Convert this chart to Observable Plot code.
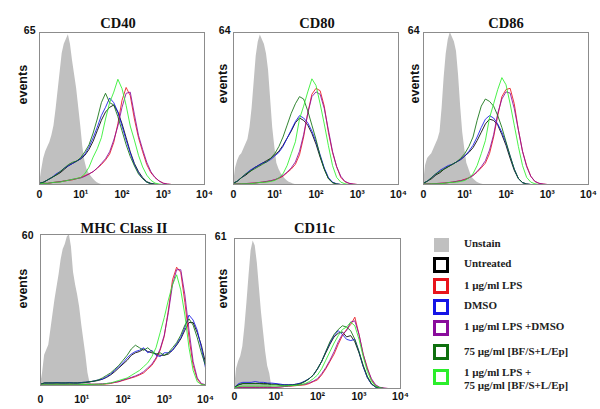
<!DOCTYPE html>
<html><head><meta charset="utf-8">
<script src="https://cdn.jsdelivr.net/npm/d3@7"></script>
<script src="https://cdn.jsdelivr.net/npm/@observablehq/plot@0.6"></script>
<style>
body{margin:0;background:#fff;}
#fig{position:relative;width:600px;height:409px;overflow:hidden;background:#fff;}
#fig svg{position:absolute;}
.leg{position:absolute;left:464px;font:bold 11px "Liberation Serif","Times New Roman",serif;color:#222;line-height:13.4px;white-space:nowrap;}
.sw{position:absolute;left:433px;box-sizing:border-box;width:16px;height:16px;border:3px solid;}
</style></head><body><div id="fig"></div>
<script>
// ---- axis grid (log10 of fluorescence; 0 = first decade) ----
const bins = [0,0.1,0.2,0.3,0.4,0.5,0.6,0.7,0.8,0.9,1,1.1,1.2,1.3,1.4,1.5,1.6,1.7,1.8,1.9,2,2.1,2.2,2.3,2.4,2.5,2.6,2.7,2.8,2.9,3,3.1,3.2,3.3,3.4,3.5,3.6,3.7,3.8,3.9,4];
const grayBins = [0,0.05,0.1,0.15,0.2,0.25,0.3,0.35,0.4,0.45,0.5,0.55,0.6,0.65,0.7,0.75,0.8,0.85,0.9,0.95,1,1.05,1.1,1.15,1.2,1.25,1.3,1.35,1.4,1.45,1.5];
const tickValues = [0,1,2,3,4];
const tickLabels = ["0","10\u00B9","10\u00B2","10\u00B3","10\u2074"];

const seriesNames = ["Untreated","1 \u00B5g/ml LPS","DMSO","1 \u00B5g/ml LPS +DMSO","75 \u00B5g/ml [BF/S+L/Ep]","1 \u00B5g/ml LPS +\n75 \u00B5g/ml [BF/S+L/Ep]"];
const seriesColors = ["#000000","#e8141c","#1515e6","#8a0c9c","#0e700e","#2bee2b"];
const unstainName = "Unstain";
const unstainColor = "#c0c0c0";

const panelTitles = ["CD40","CD80","CD86","MHC Class II","CD11c"];
const panelMax = [65,64,64,60,61];

// ---- CD40 ----
const cd40Gray = [0,6,11,14,16,18,21,25,32,40,48,56,60,62,64,60,53,47,41,33,25,16,10,6.5,4.8,3.5,2.5,1.5,0.8,0.3,0];
const cd40Untreated = [0.5,1,2,3,4,5,6.5,8,9,10,11,12.5,15,18.5,23,27.5,31,33,34,31,26,20,14,9,5.5,3,1.2,0.5,0.2,0,0,0,0,0,0,0,0,0,0,0,0];
const cd40Lps = [0.3,0.5,0.5,0.8,1,1.2,1.5,1.8,2,2.5,3,3.8,4.5,5.5,7,8.5,10.5,13,18,26,36,41.5,38,28,20,14,8.5,5,3,1.5,0.6,0.2,0,0,0,0,0,0,0,0,0];
const cd40Dmso = [0.5,1,2,3,4.5,5.5,7,8,9,10,11,13,16,20,24.5,29.5,33,37,35,31,25,19,13.5,8.5,5,2.5,1,0.3,0,0,0,0,0,0,0,0,0,0,0,0,0];
const cd40LpsDmso = [0.3,0.5,0.5,0.8,1,1.2,1.5,1.8,2.2,2.5,2.8,3.5,4.5,5.5,7,9,11,14,19,25,33,39,39.5,30,21,15,9.5,5.5,3,1.5,0.5,0.2,0,0,0,0,0,0,0,0,0];
const cd40Bf = [0.5,1,2,3,4,5.5,7,8.5,9.5,10,11.5,14,17,22,28,35,39,35,34,29,23,17,12,8,4.5,2.5,1,0.3,0,0,0,0,0,0,0,0,0,0,0,0,0];
const cd40LpsBf = [0.2,0.5,0.5,0.8,1,1,1.5,1.8,2.2,2.6,3,4.6,7.4,11.7,15.3,20,28,35,39.5,45,41,33.8,25,19,12.5,7.5,4,1.8,0.6,0.2,0,0,0,0,0,0,0,0,0,0,0];

// ---- CD80 ----
const cd80Gray = [0,7,10,12,13,15,17,19,24,32,43,54,60,63,61,59,55,48,36,24,16,9,6.5,4.7,3.5,2.4,1.6,1,0.6,0.2,0];
const cd80Untreated = [0.5,1.5,3,4,5.5,7,8,9,10,11,12.5,14,16.5,19.5,22.5,26,28,27,25,21.5,17,11.5,6.5,2.5,0.8,0.2,0,0,0,0,0,0,0,0,0,0,0,0,0,0,0];
const cd80Lps = [0.2,0.3,0.3,0.4,0.5,0.6,0.8,1,1.2,1.5,2,2.6,3.5,5,6.5,8.5,12.5,20,30,38,40.5,39.5,33,22,13.5,7.5,3,1.2,0.5,0.2,0,0,0,0,0,0,0,0,0,0,0];
const cd80Dmso = [0.5,1.5,3,4.5,6,7,8,9,9.5,10.5,12,13.5,16,19.5,23,26.5,29,28,26,22.5,18,12.5,7,3,1,0.3,0,0,0,0,0,0,0,0,0,0,0,0,0,0,0];
const cd80LpsDmso = [0.2,0.3,0.3,0.4,0.5,0.6,0.8,1,1.3,1.6,2,2.8,3.8,5.2,7,9.5,14,21,30,37,39,38,32,23,14,7.5,3.5,1.3,0.5,0.2,0,0,0,0,0,0,0,0,0,0,0];
const cd80Bf = [0.5,1.5,3,4.5,5.5,6.5,7.5,8.5,9.5,11,13,16,20,25,30,34,37,36,31,25,19,12,6.5,2.5,0.8,0.2,0,0,0,0,0,0,0,0,0,0,0,0,0,0,0];
const cd80LpsBf = [0.2,0.2,0.3,0.3,0.3,0.5,0.8,0.9,1,1.3,1.7,2.8,4.5,8,13,18,27.6,33,39,44.5,41.7,34,25.5,16.4,8,3,1,0.3,0,0,0,0,0,0,0,0,0,0,0,0,0];

// ---- CD86 ----
const cd86Gray = [0,8,11,12,13,15,17,19,22,32,45,55,61,64,62,60,56,46,33,22,15,9,6.5,4,2.5,1.7,1,0.5,0.2,0,0];
const cd86Untreated = [0.5,1.5,2.5,4,5,6.5,7.5,8.5,9.5,10.5,12,13.5,15.5,18.5,22,25.5,27.5,27,25,21,16.5,11,6,2.5,0.8,0.2,0,0,0,0,0,0,0,0,0,0,0,0,0,0,0];
const cd86Lps = [0.2,0.3,0.3,0.4,0.5,0.6,0.8,1,1.3,1.6,2.2,2.8,3.8,5.2,7,9,13,20,29,37,40,40.5,34,23,14,8,3.5,1.3,0.5,0.2,0,0,0,0,0,0,0,0,0,0,0];
const cd86Dmso = [0.5,1.5,3,4.5,6,7,8,8.5,9.5,10.5,12,14,16.5,20,24,27.5,29,28,25.5,22,17.5,12,6.5,2.5,0.8,0.2,0,0,0,0,0,0,0,0,0,0,0,0,0,0,0];
const cd86LpsDmso = [0.2,0.3,0.3,0.4,0.5,0.6,0.8,1,1.3,1.6,2,2.8,3.8,5.5,7.5,10,14.5,21,30,36,39,38.5,32,23,14,7.5,3.5,1.3,0.5,0.2,0,0,0,0,0,0,0,0,0,0,0];
const cd86Bf = [0.5,1.5,3,4.5,5.5,6.5,7.5,8.5,9.5,11,13,16,20,27,33,36,35,33,29,24,18,12,6.5,2.5,0.8,0.2,0,0,0,0,0,0,0,0,0,0,0,0,0,0,0];
const cd86LpsBf = [0.2,0.2,0.3,0.3,0.3,0.5,0.8,0.9,1,1.3,1.7,2.8,4.5,8,13,18.5,28,34,40,45,42,34,25,16,8,3,1,0.3,0,0,0,0,0,0,0,0,0,0,0,0,0];

// ---- MHC Class II ----
const mhcGray = [0,5,12,14,16,22,28,34,39,44,50,54,56,59,60,55,45,40,36,31,24,18,12,5,1,0.3,0,0,0,0,0];
const mhcUntreated = [0.5,1,1,1,1,1,1,1,1,1,1.2,1.3,1.5,1.7,2,2.5,3.2,4.2,5.5,7,8.5,10,12,13,13.5,14.5,13.5,13,12.5,12,12,12.5,14,16,18.5,22,25,25,21,16,9];
const mhcLps = [0.2,0.3,0.3,0.3,0.3,0.3,0.3,0.3,0.3,0.3,0.4,0.4,0.5,0.5,0.5,0.5,0.6,0.8,1.2,1.5,2,2.5,3,3.5,4.2,5,6.5,8,10.5,14,19.5,30,42,47,45,33,19,8,2.5,0.5,0.2];
const mhcDmso = [0.5,1,1,1,1.2,1,1,1.2,1,1,1.2,1.3,1.5,1.8,2.2,2.5,3.5,4.5,6,7.5,9,11,12.5,13.5,14,15,13,14,12,11.5,13,13,14,16.5,19,23,28,26,22,15,7];
const mhcLpsDmso = [0.2,0.3,0.3,0.3,0.3,0.3,0.3,0.3,0.3,0.3,0.4,0.4,0.5,0.5,0.6,0.7,0.8,1,1.3,1.6,2.2,2.7,3.2,3.8,4.5,5.5,7,8.5,11,14.5,20,29,40,46,46,36,22,9.5,3,0.8,0.3];
const mhcBf = [0.5,1,1,1,1,1,1,1,1,1,1,1.2,1.5,1.8,2.2,3,4,5,6.5,8,10,12,14.5,16,15,14,15,13.5,12.5,13,12,13,15,17,20,24,26.5,24,19,13,8];
const mhcLpsBf = [0.2,0.3,0.3,0.3,0.3,0.3,0.3,0.3,0.3,0.3,0.4,0.4,0.4,0.5,0.5,0.5,0.8,1,1.5,2,2.5,3,4,5,6,7.5,9,11.5,15,21,27,34,40,44,38,28,15,6,1.5,0.4,0.2];

// ---- CD11c ----
const cd11cGray = [0,8,11,13,17,25,35,46,56,60,58,51,41,31,23,15,9,6,0.5,0,0,0,0,0,0,0,0,0,0,0,0];
const cd11cUntreated = [0.5,1.5,2,2,2,2,2,2,2,1.8,1.8,1.5,1.5,1.5,1.5,1.8,2.2,3,4,5.5,8,11,14.5,18,21,22.5,23,21,21.5,19,14.5,9,4.5,1.8,0.6,0.2,0,0,0,0,0];
const cd11cLps = [0.3,0.5,0.5,0.5,0.5,0.5,0.5,0.5,0.5,0.5,0.5,0.6,0.8,0.9,1,1.2,1.3,1.5,2,2.8,3.5,5.5,8,11,14,18,21.5,24,26,29,22,14,8.5,3.5,1.2,0.4,0.1,0,0,0,0];
const cd11cDmso = [0.5,2,2.5,2.5,2.5,2.8,2.5,2.5,2.2,2.2,2,1.8,1.5,1.5,1.5,1.8,2.2,3,4,5.5,8,11,15,18.5,21.5,23.5,22,20,19.5,20,15,9,4.5,1.8,0.6,0.2,0,0,0,0,0];
const cd11cLpsDmso = [0.3,0.5,0.5,0.5,0.5,0.5,0.5,0.5,0.5,0.5,0.5,0.6,0.8,1,1.2,1.4,1.6,1.8,2.3,3,4,6,8.5,11.5,15,19,22,23.5,27,27.5,22,14,8,4,1.5,0.5,0.2,0,0,0,0];
const cd11cBf = [0.5,1.5,2,2,2,2,2,1.8,1.8,1.5,1.5,1.3,1.3,1.3,1.4,1.5,2,2.8,4,5.5,8,11,15,19,22,24,25.5,25,23.5,20,15,9.5,5,2,0.7,0.2,0,0,0,0,0];
const cd11cLpsBf = [0.3,0.8,1,1,1,1,1,1,1,1,1,1,1,1.1,1.2,1.3,1.5,2,2.8,4,5.5,8,11.5,15,18.5,21.5,24,25,27,25.5,20,13,7,3,1,0.3,0,0,0,0,0];

// ---- layout (positions only) ----
const layout = [
  {L:0,  T:0,   W:215, H:205, mL:39, mT:32, mR:11, mB:21, xPad:6,  maxPad:4, maxDy:-2, evDx:-16.5, evDy:-4,  tDx:-4, tDy:-15},
  {L:200,T:0,   W:210, H:205, mL:33, mT:32, mR:12, mB:21, xPad:6,  maxPad:3, maxDy:-2, evDx:-10.5, evDy:-5,  tDx:1,  tDy:-15},
  {L:400,T:0,   W:200, H:205, mL:23, mT:32, mR:12, mB:21, xPad:6,  maxPad:4, maxDy:-2, evDx:-9,    evDy:-5,  tDx:0,  tDy:-15},
  {L:0,  T:205, W:215, H:204, mL:40, mT:29, mR:10, mB:24, xPad:10, maxPad:7, maxDy:1,  evDx:-17.5, evDy:-1.5,tDx:1,  tDy:-12},
  {L:200,T:205, W:210, H:204, mL:34, mT:33, mR:10, mB:21, xPad:4,  maxPad:8, maxDy:-2, evDx:-11.5, evDy:-5,  tDx:-3, tDy:-16}
];

const panelGray = [cd40Gray, cd80Gray, cd86Gray, mhcGray, cd11cGray];
const panelLines = [
  [cd40Untreated, cd40Lps, cd40Dmso, cd40LpsDmso, cd40Bf, cd40LpsBf],
  [cd80Untreated, cd80Lps, cd80Dmso, cd80LpsDmso, cd80Bf, cd80LpsBf],
  [cd86Untreated, cd86Lps, cd86Dmso, cd86LpsDmso, cd86Bf, cd86LpsBf],
  [mhcUntreated, mhcLps, mhcDmso, mhcLpsDmso, mhcBf, mhcLpsBf],
  [cd11cUntreated, cd11cLps, cd11cDmso, cd11cLpsDmso, cd11cBf, cd11cLpsBf]
];

const fig = document.getElementById("fig");
const sans = "'Liberation Sans', Arial, Helvetica, sans-serif";
const serif = "'Liberation Serif', 'Times New Roman', serif";

panelTitles.forEach((title, p) => {
  const g = layout[p];
  const grayData = panelGray[p].map((v, i) => ({x: grayBins[i], y: v}));
  const lineData = [];
  panelLines[p].forEach((arr, k) => arr.forEach((v, i) => lineData.push({x: bins[i], y: v, series: seriesNames[k]})));
  const svg = Plot.plot({
    width: g.W, height: g.H,
    marginLeft: g.mL, marginTop: g.mT, marginRight: g.mR, marginBottom: g.mB,
    x: {domain: [0, 4]},
    y: {domain: [0, panelMax[p]]},
    color: {type: "ordinal", domain: seriesNames, range: seriesColors},
    style: {fontFamily: sans, fontSize: "10.5px", fontWeight: "bold", background: "transparent", overflow: "visible", color: "#111"},
    marks: [
      Plot.areaY(grayData, {x: "x", y: "y", fill: unstainColor}),
      Plot.lineY(lineData, {x: "x", y: "y", z: "series", stroke: "series", strokeWidth: 0.85}),
      Plot.frame({stroke: "#8c8c8c", strokeWidth: 1}),
      Plot.axisX({ticks: tickValues, tickFormat: d => tickLabels[tickValues.indexOf(d)], tickSize: 0, tickPadding: g.xPad, label: null, fontWeight: "bold"}),
      Plot.axisY({ticks: [panelMax[p]], tickSize: 0, tickPadding: g.maxPad, dy: g.maxDy, label: null, fontWeight: "bold"}),
      Plot.text(["events"], {text: d => d, frameAnchor: "left", rotate: -90, dx: g.evDx, dy: g.evDy, fontSize: 12.5, fontWeight: "bold", fontFamily: sans}),
      Plot.text([title], {text: d => d, frameAnchor: "top", dx: g.tDx, dy: g.tDy, fontSize: 14.5, fontWeight: "bold", fontFamily: serif})
    ]
  });
  svg.style.left = g.L + "px";
  svg.style.top = g.T + "px";
  fig.appendChild(svg);
});

// ---- legend ----
const legNames = [unstainName, ...seriesNames];
const legColors = [unstainColor, ...seriesColors];
const swTop = [238, 256.7, 278, 299, 320, 344, 368.5];
const txtCenter = [244, 263.3, 285.7, 305.7, 326.7, 351.7, 379];
legNames.forEach((name, i) => {
  const sw = document.createElement("div");
  sw.className = "sw";
  sw.style.top = swTop[i] + "px";
  if (i === 0) {
    sw.style.border = "none"; sw.style.background = legColors[i];
    sw.style.width = "15px"; sw.style.height = "14px"; sw.style.left = "434px";
  } else {
    sw.style.borderColor = legColors[i];
  }
  fig.appendChild(sw);
  const t = document.createElement("div");
  t.className = "leg";
  const lines = name.split("\n");
  t.style.top = (txtCenter[i] - lines.length * 13.4 / 2) + "px";
  lines.forEach((ln, j) => {
    if (j) t.appendChild(document.createElement("br"));
    t.appendChild(document.createTextNode(ln));
  });
  fig.appendChild(t);
});
</script></body></html>
